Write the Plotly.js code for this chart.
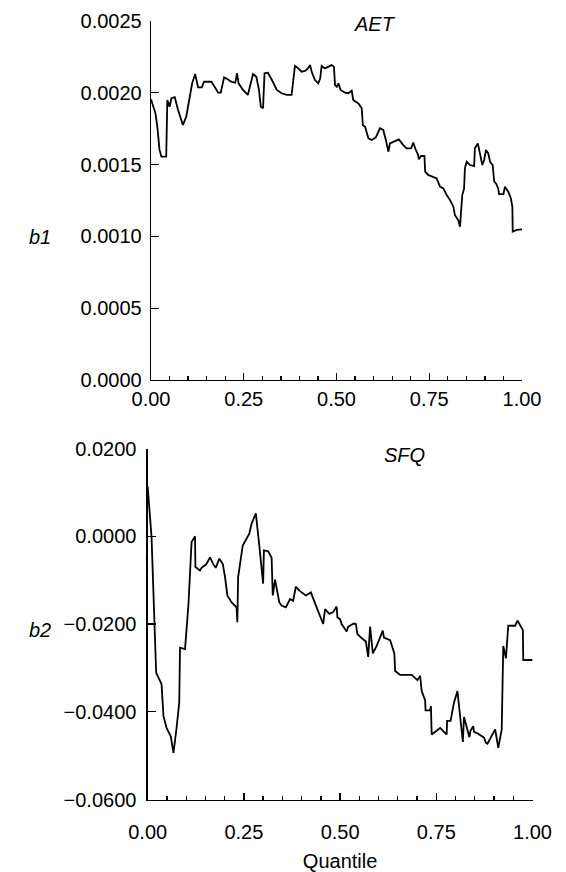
<!DOCTYPE html>
<html>
<head>
<meta charset="utf-8">
<script src="https://cdn.plot.ly/plotly-3.0.1.min.js"></script>
<style>html,body{margin:0;padding:0;background:#fff}#chart{width:566px;height:872px}</style>
</head>
<body>
<div id="chart"></div>
<script>
// AET coefficient (b1) by quantile
const aetQ = [0.000,0.012,0.017,0.023,0.028,0.041,0.044,0.050,0.055,0.064,0.073,0.086,0.095,0.104,0.111,0.119,0.127,0.137,0.143,0.163,0.172,0.181,0.188,0.197,0.208,0.216,0.227,0.232,0.236,0.248,0.261,0.269,0.275,0.284,0.291,0.296,0.302,0.306,0.315,0.326,0.339,0.352,0.366,0.379,0.382,0.388,0.397,0.406,0.415,0.421,0.429,0.433,0.442,0.451,0.456,0.460,0.469,0.478,0.487,0.493,0.496,0.501,0.505,0.511,0.523,0.532,0.541,0.545,0.559,0.568,0.571,0.577,0.586,0.595,0.606,0.617,0.626,0.633,0.640,0.644,0.658,0.668,0.680,0.689,0.701,0.707,0.712,0.720,0.722,0.728,0.737,0.739,0.747,0.761,0.770,0.779,0.788,0.797,0.806,0.815,0.819,0.828,0.833,0.836,0.839,0.844,0.846,0.851,0.860,0.871,0.873,0.881,0.887,0.893,0.898,0.903,0.909,0.914,0.921,0.925,0.930,0.936,0.938,0.950,0.954,0.963,0.970,0.974,0.975,0.986,1.000];
const aetB = [0.001955,0.001857,0.001764,0.001602,0.001555,0.001555,0.001950,0.001903,0.001962,0.001969,0.001880,0.001776,0.001834,0.001950,0.002066,0.002131,0.002038,0.002038,0.002077,0.002077,0.002042,0.002001,0.002001,0.002107,0.002093,0.002077,0.002070,0.002136,0.002066,0.002020,0.001985,0.002077,0.002131,0.002112,0.002020,0.001903,0.001892,0.002136,0.002140,0.002089,0.002020,0.001997,0.001985,0.001985,0.002054,0.002187,0.002170,0.002147,0.002152,0.002164,0.002193,0.002147,0.002089,0.002066,0.002101,0.002187,0.002170,0.002182,0.002193,0.002182,0.002054,0.002042,0.002066,0.002020,0.002001,0.001997,0.002015,0.001950,0.001926,0.001892,0.001776,0.001764,0.001683,0.001671,0.001690,0.001753,0.001741,0.001671,0.001590,0.001648,0.001667,0.001676,0.001636,0.001613,0.001613,0.001653,0.001613,0.001567,0.001537,0.001560,0.001560,0.001451,0.001428,0.001416,0.001404,0.001346,0.001334,0.001288,0.001253,0.001207,0.001149,0.001114,0.001068,0.001184,0.001288,0.001334,0.001474,0.001520,0.001497,0.001490,0.001613,0.001648,0.001567,0.001497,0.001532,0.001602,0.001578,0.001520,0.001497,0.001381,0.001369,0.001334,0.001295,0.001295,0.001346,0.001311,0.001265,0.001207,0.001033,0.001045,0.001049];

// SFQ coefficient (b2) by quantile
const sfqQ = [0.000,0.010,0.022,0.036,0.041,0.049,0.060,0.067,0.075,0.082,0.084,0.097,0.106,0.114,0.123,0.124,0.136,0.140,0.152,0.162,0.170,0.177,0.186,0.195,0.201,0.207,0.218,0.231,0.233,0.235,0.247,0.255,0.264,0.270,0.281,0.290,0.300,0.302,0.313,0.322,0.325,0.331,0.342,0.348,0.359,0.370,0.378,0.385,0.394,0.411,0.424,0.439,0.456,0.461,0.472,0.482,0.491,0.493,0.500,0.504,0.517,0.521,0.536,0.541,0.545,0.556,0.567,0.573,0.578,0.585,0.595,0.611,0.614,0.630,0.641,0.643,0.656,0.686,0.701,0.708,0.712,0.721,0.722,0.734,0.736,0.738,0.760,0.777,0.778,0.787,0.796,0.805,0.819,0.822,0.836,0.839,0.846,0.848,0.859,0.874,0.879,0.883,0.903,0.911,0.920,0.924,0.931,0.937,0.955,0.961,0.975,0.976,0.994,1.000];
const sfqB = [0.0113,-0.0002,-0.0311,-0.0337,-0.0410,-0.0437,-0.0456,-0.0494,-0.0437,-0.0379,-0.0254,-0.0257,-0.0154,-0.0013,0.0000,-0.0070,-0.0078,-0.0072,-0.0064,-0.0048,-0.0063,-0.0072,-0.0051,-0.0063,-0.0093,-0.0135,-0.0151,-0.0162,-0.0196,-0.0093,-0.0021,-0.0008,0.0006,0.0029,0.0052,-0.0021,-0.0108,-0.0032,-0.0034,-0.0049,-0.0135,-0.0099,-0.0151,-0.0158,-0.0162,-0.0143,-0.0147,-0.0115,-0.0124,-0.0135,-0.0128,-0.0162,-0.0200,-0.0166,-0.0177,-0.0173,-0.0160,-0.0185,-0.0189,-0.0200,-0.0217,-0.0206,-0.0199,-0.0200,-0.0223,-0.0232,-0.0240,-0.0275,-0.0206,-0.0267,-0.0250,-0.0215,-0.0231,-0.0237,-0.0267,-0.0307,-0.0316,-0.0316,-0.0328,-0.0318,-0.0353,-0.0374,-0.0397,-0.0397,-0.0387,-0.0452,-0.0437,-0.0452,-0.0421,-0.0421,-0.0379,-0.0353,-0.0469,-0.0412,-0.0458,-0.0443,-0.0433,-0.0446,-0.0450,-0.0459,-0.0471,-0.0473,-0.0440,-0.0482,-0.0440,-0.0250,-0.0278,-0.0204,-0.0204,-0.0192,-0.0214,-0.0282,-0.0282,-0.0282];

const xTicks = [0, 0.25, 0.5, 0.75, 1];
const xTickText = ['0.00', '0.25', '0.50', '0.75', '1.00'];

const FONT = 'Liberation Sans, Arial, sans-serif';
const lineStyle = {color: '#000', width: 1.8};

const traces = [
  {x: aetQ, y: aetB, xaxis: 'x', yaxis: 'y', mode: 'lines', line: lineStyle, hoverinfo: 'skip'},
  {x: sfqQ, y: sfqB, xaxis: 'x2', yaxis: 'y2', mode: 'lines', line: lineStyle, hoverinfo: 'skip'}
];

function xAxis(domain, anchor, standoff, title) {
  const a = {
    domain: domain, anchor: anchor, range: [0, 1],
    showline: true, linecolor: '#000', linewidth: 1.3,
    showgrid: false, zeroline: false,
    ticks: 'inside', ticklen: 7, tickwidth: 1.3, tickcolor: '#000',
    tickvals: xTicks, ticktext: xTickText,
    minor: {dtick: 0.05, tick0: 0, ticks: 'inside', ticklen: 4, tickwidth: 1.3, tickcolor: '#000', showgrid: false},
    tickfont: {family: FONT, size: 20, color: '#000'},
    ticklabelstandoff: standoff, fixedrange: true
  };
  if (title) a.title = {text: title, font: {family: FONT, size: 20, color: '#000'}, standoff: 22};
  return a;
}

function yAxis(domain, anchor, range, dtick, standoff) {
  return {
    domain: domain, anchor: anchor, range: range, dtick: dtick, tick0: 0,
    showline: true, linecolor: '#000', linewidth: 1.3,
    showgrid: false, zeroline: false,
    ticks: 'inside', ticklen: 8, tickwidth: 1.3, tickcolor: '#000',
    tickformat: '.4f',
    tickfont: {family: FONT, size: 20, color: '#000'},
    ticklabelstandoff: standoff, fixedrange: true
  };
}

const annFont = {family: FONT, size: 20, color: '#000', style: 'italic'};
function ann(text, px, py) {
  return {text: text, xref: 'paper', yref: 'paper', x: px/566, y: 1 - py/872,
          xanchor: 'center', yanchor: 'middle', showarrow: false, font: annFont};
}

const layout = {
  width: 566, height: 872,
  margin: {l: 0, r: 0, t: 0, b: 0},
  paper_bgcolor: '#fff', plot_bgcolor: '#fff',
  showlegend: false,
  xaxis: xAxis([151/566, 522/566], 'y', 1),
  yaxis: yAxis([(872-380)/872, (872-21)/872], 'x', [0, 0.0025], 0.0005, 4),
  xaxis2: xAxis([147.7/566, 532.5/566], 'y2', 14, 'Quantile'),
  yaxis2: yAxis([(872-799.5)/872, (872-448.5)/872], 'x2', [-0.06, 0.02], 0.02, 6),
  annotations: [
    ann('AET', 375, 24),
    ann('SFQ', 404, 455),
    ann('b1', 40, 237),
    ann('b2', 40, 630)
  ]
};

Plotly.newPlot('chart', traces, layout, {displayModeBar: false, staticPlot: true});
</script>
</body>
</html>
